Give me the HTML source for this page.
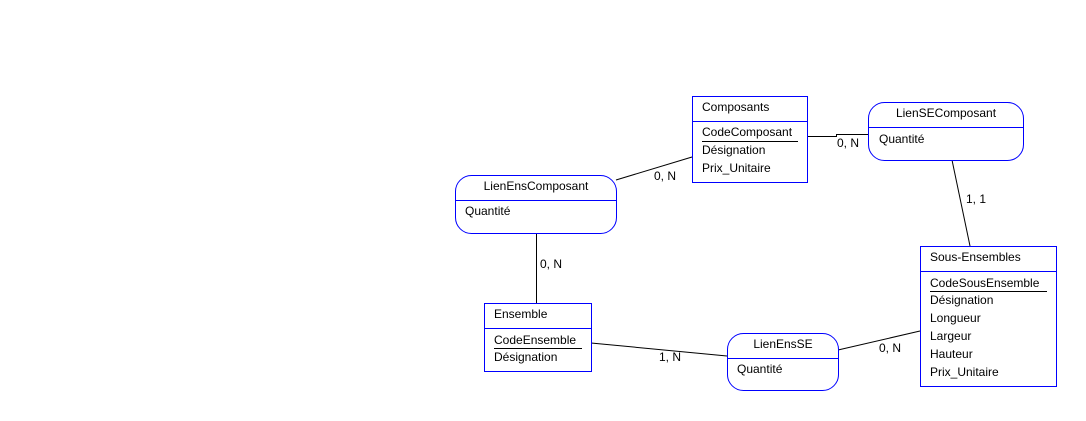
<!DOCTYPE html>
<html><head><meta charset="utf-8"><style>
html,body{margin:0;padding:0;background:#fff;}
svg{display:block;}
text{font-family:"Liberation Sans",Arial,sans-serif;font-size:12px;fill:#000;}
</style></head><body>
<svg width="1086" height="421" viewBox="0 0 1086 421" xmlns="http://www.w3.org/2000/svg">
<g stroke="#000" stroke-width="1" fill="none">
<polyline points="807.5,136.5 836.5,136.5 836.5,134.5 868.5,134.5"/>
<line x1="616" y1="180" x2="692" y2="157"/>
<line x1="952" y1="160" x2="970" y2="246"/>
<line x1="536.5" y1="233" x2="536.5" y2="303"/>
<line x1="591" y1="343" x2="727" y2="356"/>
<line x1="838" y1="350" x2="920" y2="331"/>
</g>
<g stroke="#0000ff" stroke-width="1" fill="#fff">
<rect x="692.5" y="96.5" width="115" height="86"/>
<line x1="692.5" y1="121.5" x2="807.5" y2="121.5"/>
<rect x="868.5" y="102.5" width="155" height="58" rx="16"/>
<line x1="868.5" y1="127.5" x2="1023.5" y2="127.5"/>
<rect x="455.5" y="175.5" width="161" height="58" rx="16"/>
<line x1="455.5" y1="200.5" x2="616.5" y2="200.5"/>
<rect x="484.5" y="303.5" width="107" height="68"/>
<line x1="484.5" y1="328.5" x2="591.5" y2="328.5"/>
<rect x="727.5" y="333.5" width="111" height="57" rx="16"/>
<line x1="727.5" y1="358.5" x2="838.5" y2="358.5"/>
<rect x="920.5" y="246.5" width="136" height="140"/>
<line x1="920.5" y1="271.5" x2="1056.5" y2="271.5"/>
</g>
<g stroke="#000" stroke-width="1">
<line x1="702" y1="141.5" x2="798" y2="141.5"/>
<line x1="494" y1="348.5" x2="582" y2="348.5"/>
<line x1="930" y1="291.5" x2="1047" y2="291.5"/>
</g>
<text x="702" y="111">Composants</text>
<text x="702" y="136">CodeComposant</text>
<text x="702" y="154">Désignation</text>
<text x="702" y="172">Prix_Unitaire</text>
<text x="946" y="117" text-anchor="middle">LienSEComposant</text>
<text x="879" y="143">Quantité</text>
<text x="536" y="190" text-anchor="middle">LienEnsComposant</text>
<text x="465" y="215">Quantité</text>
<text x="494" y="318">Ensemble</text>
<text x="494" y="344">CodeEnsemble</text>
<text x="494" y="361">Désignation</text>
<text x="783" y="348" text-anchor="middle">LienEnsSE</text>
<text x="737" y="373">Quantité</text>
<text x="930" y="261">Sous-Ensembles</text>
<text x="930" y="287">CodeSousEnsemble</text>
<text x="930" y="304">Désignation</text>
<text x="930" y="322">Longueur</text>
<text x="930" y="340">Largeur</text>
<text x="930" y="358">Hauteur</text>
<text x="930" y="376">Prix_Unitaire</text>
<text x="837" y="147">0, N</text>
<text x="654" y="180">0, N</text>
<text x="966" y="203">1, 1</text>
<text x="540" y="268">0, N</text>
<text x="659" y="361">1, N</text>
<text x="879" y="352">0, N</text>
</svg>
</body></html>
